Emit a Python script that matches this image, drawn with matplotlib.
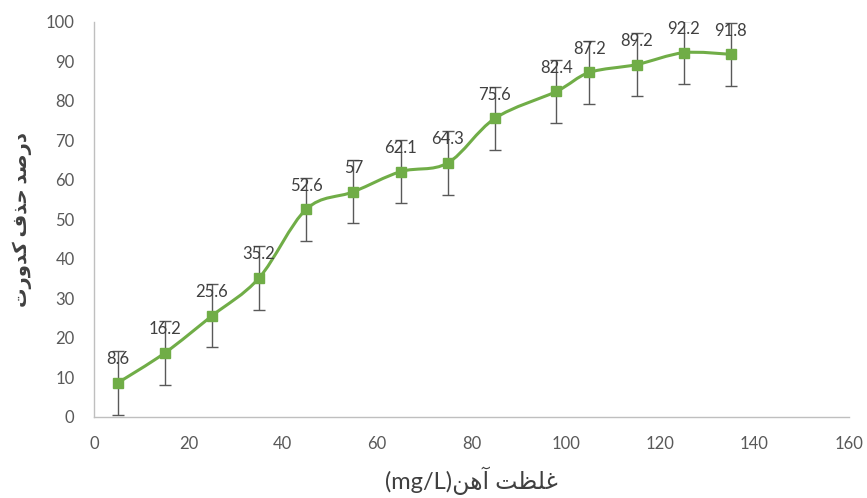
import numpy as np
import matplotlib.pyplot as plt
from matplotlib.path import Path
from matplotlib.patches import PathPatch

# iron concentration (mg/L) and turbidity removal (%)
conc = [5, 15, 25, 35, 45, 55, 65, 75, 85, 98, 105, 115, 125, 135]
removal = [8.6, 16.2, 25.6, 35.2, 52.6, 57, 62.1, 64.3, 75.6, 82.4, 87.2, 89.2, 92.2, 91.8]
err = [8, 8, 8, 8, 8, 8, 8, 8, 8, 8, 8, 8, 8, 8]

# Persian labels, pre-shaped (presentation forms, visual order)
ylabel = "\uFE95\uFEAD\uFEED\uFEAA\uFB90 \uFED1\uFEAC\uFEA3 \uFEAA\uFEBB\uFEAD\uFEA9"
xlabel = "(mg/L)\uFEE6\uFEEB\uFE81 \uFE96\uFEC8\uFEE0\uFECF"

plt.rcParams['font.family'] = ['Lato', 'DejaVu Sans']

fig = plt.figure(figsize=(8.67, 4.98), dpi=100)
ax = fig.add_axes([0.1084, 0.1627, 0.8706, 0.7933])

green = '#70AD47'

# smooth line (Catmull-Rom -> cubic Bezier, like Excel's smoothed line)
pts = np.column_stack([conc, removal]).astype(float)
verts = [pts[0]]
codes = [Path.MOVETO]
for i in range(len(pts) - 1):
    p0 = pts[i - 1] if i > 0 else pts[i]
    p1 = pts[i]
    p2 = pts[i + 1]
    p3 = pts[i + 2] if i + 2 < len(pts) else pts[i + 1]
    c1 = p1 + (p2 - p0) / 6
    c2 = p2 - (p3 - p1) / 6
    verts += [c1, c2, p2]
    codes += [Path.CURVE4] * 3
ax.add_patch(PathPatch(Path(verts, codes), fill=False, edgecolor=green, lw=2.2, zorder=3))

ax.errorbar(conc, removal, yerr=err, fmt='none', ecolor='#595959', elinewidth=1,
            capsize=4, capthick=1, zorder=2)
ax.plot(conc, removal, ls='none', marker='s', ms=6.5, color=green, zorder=4)

for x, y in zip(conc, removal):
    ax.annotate(f'{y:g}', (x, y), xytext=(0, 17), textcoords='offset points',
                ha='center', va='center', fontsize=12, color='#404040', zorder=5)

ax.set_xlim(0, 160)
ax.set_ylim(0, 100)
ax.set_xticks(range(0, 161, 20))
ax.set_yticks(range(0, 101, 10))
ax.tick_params(length=0, labelsize=12, labelcolor='#595959')
ax.tick_params(axis='x', pad=14)
ax.tick_params(axis='y', pad=14)

for s in ['top', 'right']:
    ax.spines[s].set_visible(False)
for s in ['left', 'bottom']:
    ax.spines[s].set_color('#BFBFBF')
    ax.spines[s].set_linewidth(1)

ax.set_xlabel(xlabel, fontsize=17, color='#404040', labelpad=10)
ax.set_ylabel(ylabel, fontsize=14, color='#404040', labelpad=10, fontweight='bold')

fig.savefig('out.png', dpi=100)
